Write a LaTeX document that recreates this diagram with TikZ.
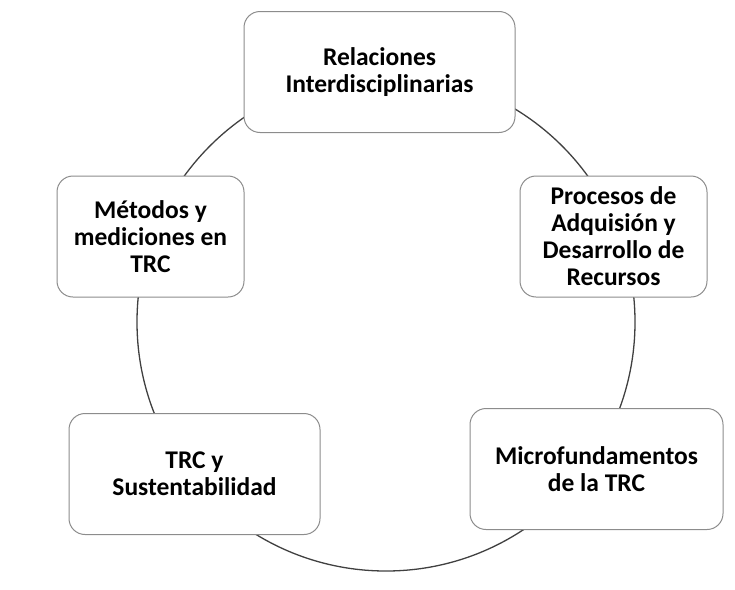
\documentclass[tikz,border=0pt]{standalone}
\usepackage{fontspec}
\setmainfont{Carlito}

\begin{document}
\begin{tikzpicture}[x=1pt,y=-1pt,
  main node/.style={rectangle,rounded corners=16pt,draw=black!45,fill=white,line width=1pt,
    minimum width=#1,minimum height=121pt,align=center,inner sep=2pt,
    font=\fontsize{25.5}{27}\selectfont\bfseries},
  ring/.style={draw=black!75,line width=1.3pt}]

  \useasboundingbox (0,0) rectangle (735,589);

  \coordinate (c) at (386,322);
  \path[ring] (c) circle[radius=249pt];

  \node[main node=271] (1) at (379.5,72) {Relaciones\\Interdisciplinarias};
  \node[main node=187] (2) at (613.5,236.5) {Procesos de\\Adquisión y\\Desarrollo de\\Recursos};
  \node[main node=253] (3) at (596.5,469) {Microfundamentos\\de la TRC};
  \node[main node=251] (4) at (194.5,474) {TRC y\\Sustentabilidad};
  \node[main node=187] (5) at (150.5,236.5) {Métodos y\\mediciones en\\TRC};
\end{tikzpicture}
\end{document}
